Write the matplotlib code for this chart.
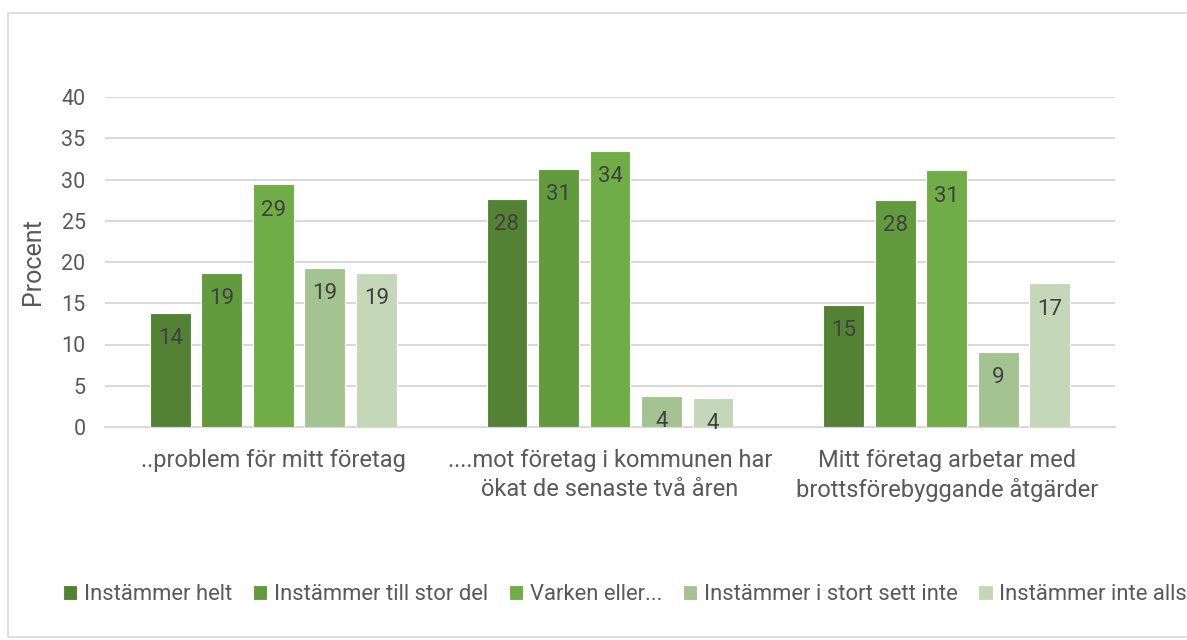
import numpy as np
import matplotlib.pyplot as plt
from matplotlib.patches import Rectangle

categories = ["..problem för mitt företag",
              "....mot företag i kommunen har\nökat de senaste två åren",
              "Mitt företag arbetar med\nbrottsförebyggande åtgärder"]
series = ["Instämmer helt", "Instämmer till stor del", "Varken eller...",
          "Instämmer i stort sett inte", "Instämmer inte alls"]
values = [
    [13.8, 27.6, 14.8],
    [18.7, 31.3, 27.5],
    [29.4, 33.5, 31.1],
    [19.3, 3.8, 9.1],
    [18.7, 3.55, 17.4],
]
labels = [
    ["14", "28", "15"],
    ["19", "31", "28"],
    ["29", "34", "31"],
    ["19", "4", "9"],
    ["19", "4", "17"],
]
colors = ["#548235", "#629b3d", "#70ad47", "#a3c490", "#c4d8b9"]

plt.rcParams['font.family'] = ['Roboto', 'DejaVu Sans']
text_col = "#595959"

fig = plt.figure(figsize=(11.87, 6.4), dpi=100)
ax = fig.add_axes([105 / 1187, 1 - 427 / 640, 1010 / 1187, 330 / 640])

# outer chart border
fig.patches.append(Rectangle((8 / 1187, 0.005), 1.2, 1 - 13 / 640 - 0.005,
                             transform=fig.transFigure, fill=False,
                             edgecolor="#d9d9d9", linewidth=1.2))

x = np.arange(len(categories))
step = 0.153
width = 0.121
for i, (name, vals, col) in enumerate(zip(series, values, colors)):
    pos = x + (i - 2) * step
    ax.bar(pos, vals, width, color=col, edgecolor="white", linewidth=0.8,
           label=name, zorder=3)
    for p, v, lab in zip(pos, vals, labels[i]):
        ax.text(p, v - 3.1, lab, ha="center", va="center", fontsize=16,
                color="#404040", zorder=4)

ax.set_xlim(-0.5, 2.5)
ax.set_ylim(0, 40)
ax.set_yticks(range(0, 41, 5))
ax.grid(axis="y", color="#d9d9d9", linewidth=1.5, zorder=0)
for s in ["top", "right", "left"]:
    ax.spines[s].set_visible(False)
ax.spines["bottom"].set_color("#d9d9d9")
ax.spines["bottom"].set_linewidth(1.5)
ax.tick_params(length=0, labelsize=15.5, colors=text_col, pad=14)
ax.set_xticks(x)
ax.set_xticklabels(categories, fontsize=17, linespacing=1.3)
ax.tick_params(axis="x", pad=16)
ax.set_ylabel("Procent", fontsize=18, color=text_col, labelpad=12)

fig.legend(loc="center", bbox_to_anchor=(625 / 1187, 1 - 595 / 640), ncol=5,
           frameon=False, fontsize=15.8, handlelength=0.65, handleheight=0.65,
           handletextpad=0.3, columnspacing=0.95, labelcolor=text_col)

fig.savefig("out.png", dpi=100)
